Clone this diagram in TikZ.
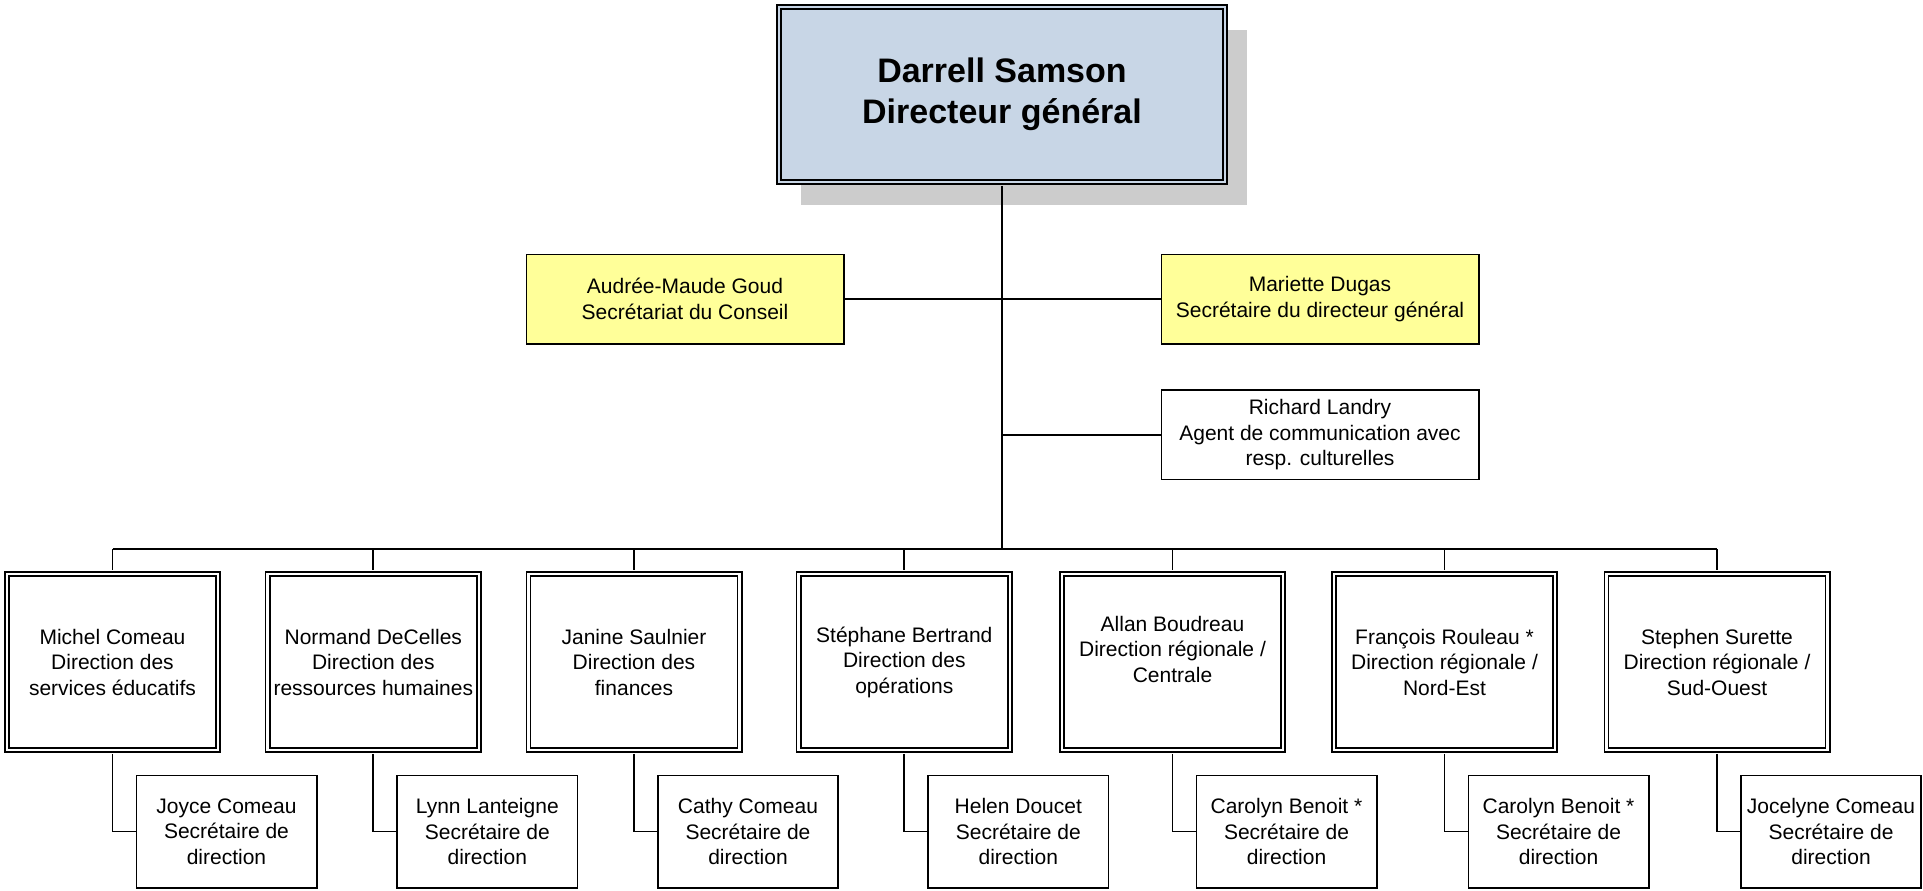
\documentclass[tikz,border=0pt]{standalone}
\usepackage{fontspec}
\setmainfont{Liberation Sans}
\usepackage{xcolor}
\usepackage{tikz}
\usetikzlibrary{shadows}
\definecolor{bossblue}{HTML}{C8D6E6}
\definecolor{noteyellow}{HTML}{FFFF99}

\begin{document}
\begin{tikzpicture}[x=1pt,y=-1pt,
  every node/.style={font=\fontsize{21}{25.5}\selectfont,align=center,inner sep=1pt},
  link/.style={line width=1.9pt},
  boss/.style={draw,line width=1.7pt,double=bossblue,double distance=2.6pt,fill=bossblue,minimum width=446pt,minimum height=175pt,font=\fontsize{34}{41}\selectfont\bfseries,drop shadow={shadow xshift=22pt,shadow yshift=-23pt,fill=black!20,opacity=1}},
  note/.style={draw,line width=1.6pt,fill=noteyellow,minimum width=317.4pt,minimum height=89.4pt},
  staff/.style={draw,line width=1.6pt,fill=white,minimum width=317.4pt,minimum height=89.4pt},
  dir/.style={draw,line width=1.6pt,double=white,double distance=2.6pt,fill=white,minimum width=211.2pt,minimum height=176.2pt},
  dirw/.style={dir,minimum width=221.2pt},
  sec/.style={draw,line width=1.6pt,fill=white,minimum width=180.4pt,minimum height=112.4pt}]
 \useasboundingbox (0,0) rectangle (1923,891);
 \node[boss] (ds) at (1002,94.5) {Darrell Samson\\Directeur général};
 \node[note]  (amg) at (685,299)   {Audrée-Maude Goud\\Secrétariat du Conseil};
 \node[note]  (md)  at (1320,299)  {Mariette Dugas\\Secrétaire du directeur général};
 \node[staff] (rl)  at (1320,434.7) {Richard Landry\\Agent de communication avec\\resp. culturelles};
 \coordinate (bus) at (1002,549);
 \node[dir]  (mc) at (112.5,662)  {Michel Comeau\\Direction des\\services éducatifs};
 \node[dir]  (nd) at (373.3,662)  {Normand DeCelles\\Direction des\\ressources humaines};
 \node[dir]  (js) at (634,662)    {Janine Saulnier\\Direction des\\finances};
 \node[dir]  (sb) at (904.3,662)  {Stéphane Bertrand\\Direction des\\opérations};
 \node[dirw] (ab) at (1172.5,662) {Allan Boudreau\\Direction régionale /\\Centrale\\\mbox{}};
 \node[dirw] (fr) at (1444.5,662) {François Rouleau *\\Direction régionale /\\Nord-Est};
 \node[dirw] (ss) at (1717,662)   {Stephen Surette\\Direction régionale /\\Sud-Ouest};
 \node[sec] (jc)  at (226.5,831.5)  {Joyce Comeau\\Secrétaire de\\direction};
 \node[sec] (ll)  at (487.3,831.5)  {Lynn Lanteigne\\Secrétaire de\\direction};
 \node[sec] (cc)  at (748,831.5)    {Cathy Comeau\\Secrétaire de\\direction};
 \node[sec] (hd)  at (1018.3,831.5) {Helen Doucet\\Secrétaire de\\direction};
 \node[sec] (cb1) at (1286.5,831.5) {Carolyn Benoit *\\Secrétaire de\\direction};
 \node[sec] (cb2) at (1558.5,831.5) {Carolyn Benoit *\\Secrétaire de\\direction};
 \node[sec] (jco) at (1831,831.5)   {Jocelyne Comeau\\Secrétaire de\\direction};
 \draw[link,shorten <=3pt] (ds.south) -- (bus);
 \draw[link] (amg.east) -- (md.west);
 \draw[link] (ds.south |- rl.west) -- (rl.west);
 \draw[link] (bus -| mc) -- (bus -| ss);
 \draw[link,shorten >=3pt] (bus -| mc) -- (mc.north);
 \draw[link,shorten >=3pt] (bus -| nd) -- (nd.north);
 \draw[link,shorten >=3pt] (bus -| js) -- (js.north);
 \draw[link,shorten >=3pt] (bus -| sb) -- (sb.north);
 \draw[link,shorten >=3pt] (bus -| ab) -- (ab.north);
 \draw[link,shorten >=3pt] (bus -| fr) -- (fr.north);
 \draw[link,shorten >=3pt] (bus -| ss) -- (ss.north);
 \draw[link,shorten <=3pt] (mc.south) |- (jc.west);
 \draw[link,shorten <=3pt] (nd.south) |- (ll.west);
 \draw[link,shorten <=3pt] (js.south) |- (cc.west);
 \draw[link,shorten <=3pt] (sb.south) |- (hd.west);
 \draw[link,shorten <=3pt] (ab.south) |- (cb1.west);
 \draw[link,shorten <=3pt] (fr.south) |- (cb2.west);
 \draw[link,shorten <=3pt] (ss.south) |- (jco.west);
\end{tikzpicture}
\end{document}
